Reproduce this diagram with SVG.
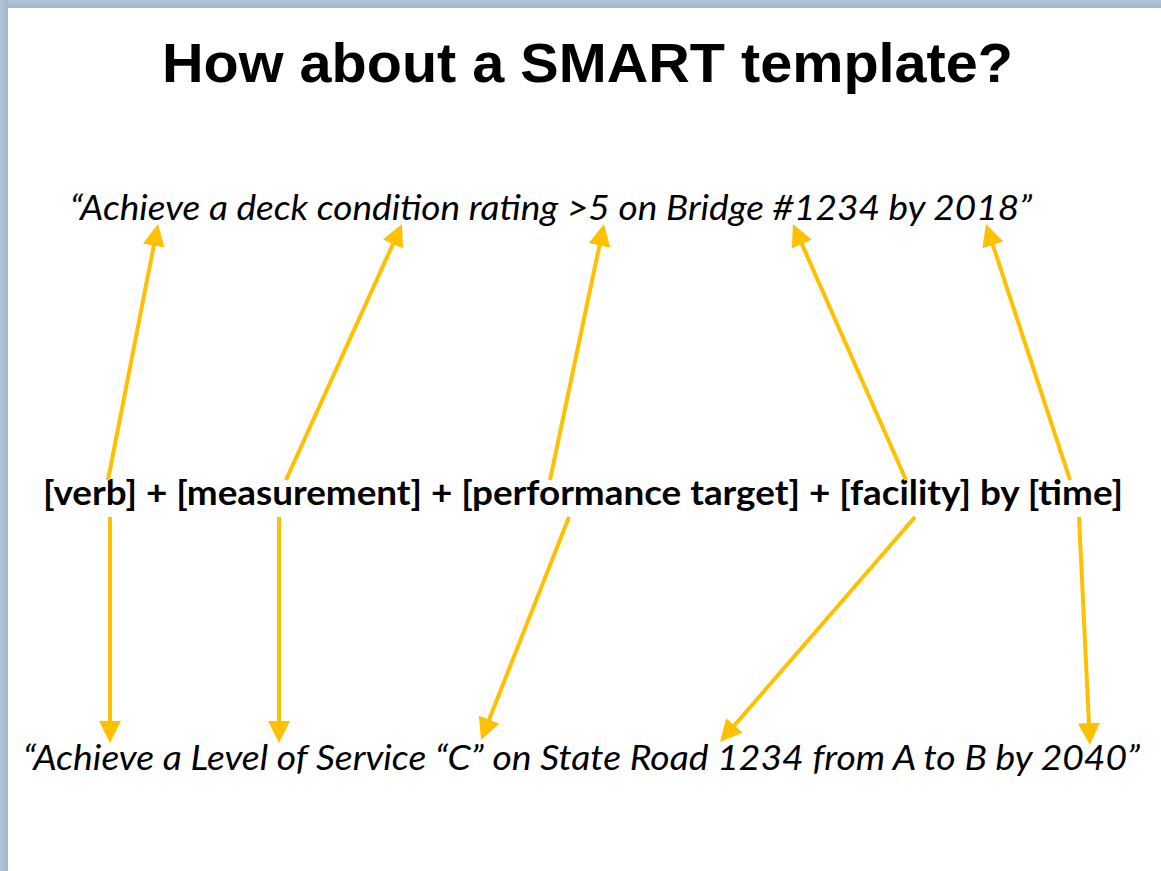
<svg xmlns="http://www.w3.org/2000/svg" width="1161" height="871" viewBox="0 0 1161 871">
  <style>
    .title { font-family: "Liberation Sans", Arial, sans-serif; font-weight: bold; font-size: 56px; fill: #000; }
    .quote { font-family: Lato, "Open Sans", sans-serif; font-style: italic; font-size: 35px; fill: #000; }
    .tmpl { font-family: Lato, "Open Sans", sans-serif; font-weight: bold; font-size: 34px; fill: #000; }
    .conn line { stroke: #FFC000; stroke-width: 4; fill: none; marker-end: url(#ah); }
  </style>
  <defs>
    <marker id="ah" markerUnits="userSpaceOnUse" markerWidth="24" markerHeight="24" refX="12" refY="11" orient="auto">
      <path d="M0,0 L22,11 L0,22 Z" fill="#FFC000"/>
    </marker>
    <linearGradient id="bt" x1="0" y1="0" x2="0" y2="1">
      <stop offset="0" stop-color="#B4C3D8"/>
      <stop offset="1" stop-color="#A2B4CE"/>
    </linearGradient>
    <linearGradient id="bl" x1="0" y1="0" x2="1" y2="0">
      <stop offset="0" stop-color="#B4C3D8"/>
      <stop offset="1" stop-color="#A2B4CE"/>
    </linearGradient>
  </defs>

  <rect x="0" y="0" width="1161" height="871" fill="#FFFFFF"/>
  <rect x="0" y="0" width="1161" height="8" fill="url(#bt)"/>
  <rect x="0" y="0" width="8" height="871" fill="url(#bl)"/>

  <g id="title">
    <text class="title" x="162" y="82" textLength="851" lengthAdjust="spacingAndGlyphs">How about a SMART template?</text>
  </g>

  <g id="example-bridge">
    <text class="quote" x="70" y="220" textLength="962" lengthAdjust="spacingAndGlyphs">“Achieve a deck condition rating &gt;5 on Bridge #1234 by 2018”</text>
  </g>

  <g id="template">
    <text class="tmpl" x="43" y="505" textLength="1080" lengthAdjust="spacingAndGlyphs">[verb] + [measurement] + [performance target] + [facility] by [time]</text>
  </g>

  <g id="example-road">
    <text class="quote" x="23" y="770" textLength="1117" lengthAdjust="spacingAndGlyphs">“Achieve a Level of Service “C” on State Road 1234 from A to B by 2040”</text>
  </g>

  <g id="connectors" class="conn">
    <line x1="108" y1="480" x2="156.1" y2="233.8"/>
    <line x1="286" y1="480" x2="397.9" y2="233.1"/>
    <line x1="550" y1="480" x2="601.9" y2="233.8"/>
    <line x1="906" y1="480" x2="797.0" y2="233.1"/>
    <line x1="1070" y1="480" x2="989.1" y2="233.5"/>
    <line x1="110" y1="517" x2="110" y2="733"/>
    <line x1="279" y1="517" x2="279" y2="733"/>
    <line x1="569" y1="517" x2="484.7" y2="730.7"/>
    <line x1="915" y1="517" x2="726.6" y2="734.4"/>
    <line x1="1079" y1="517" x2="1089.5" y2="735"/>
  </g>
</svg>
